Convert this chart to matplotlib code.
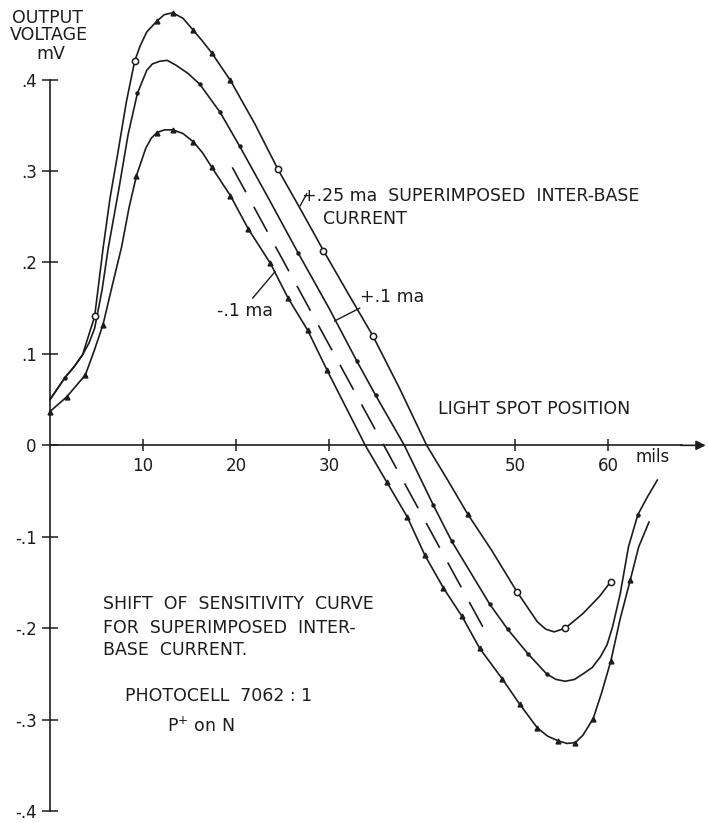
import numpy as np
import matplotlib.pyplot as plt

plt.rcParams['font.family'] = ['DejaVu Sans']

# light spot position (mils) and output voltage (mV)
# +.25 ma superimposed inter-base current
x_p25 = [0, 1.6, 2.6, 3.5, 4.8, 5.7, 6.45, 7.3, 8.2, 9.1, 9.7, 10.4, 11.5,
         12.3, 13.2, 14.3, 15.4, 16.4, 17.4, 19.4, 22.0, 24.5, 27.0, 29.4,
         32.0, 34.7, 37.6, 40.5, 42.7, 44.9, 47.5, 50.2, 51.4, 52.4, 53.3,
         54.2, 55.4, 57.3, 59.1, 60.3]
v_p25 = [0.05, 0.074, 0.086, 0.099, 0.141, 0.215, 0.27, 0.32, 0.375, 0.42,
         0.437, 0.452, 0.464, 0.471, 0.473, 0.467, 0.454, 0.442, 0.429, 0.399,
         0.352, 0.302, 0.257, 0.213, 0.167, 0.12, 0.062, 0.0, -0.037, -0.075,
         -0.115, -0.16, -0.178, -0.193, -0.201, -0.204, -0.2, -0.184, -0.165,
         -0.149]
# open circles on the +.25 curve
xo_p25 = [4.8, 9.1, 24.5, 29.4, 34.7, 50.2, 55.4, 60.3]
vo_p25 = [0.141, 0.42, 0.302, 0.213, 0.12, -0.16, -0.2, -0.149]
# small solid marks on the +.25 curve
xs_p25 = [11.5, 13.2, 15.4, 17.4, 19.4, 44.9]
vs_p25 = [0.464, 0.473, 0.454, 0.429, 0.399, -0.075]

# +.1 ma
x_p10 = [0, 1.6, 2.6, 3.5, 4.2, 4.8, 5.6, 6.25, 7.4, 8.4, 9.4, 10.4, 11.0,
         11.8, 12.6, 13.5, 14.8, 16.1, 18.3, 20.4, 23.5, 26.7, 30.0, 33.0,
         35.0, 38.1, 41.2, 43.2, 47.3, 49.2, 51.4, 53.4, 54.4, 55.4, 56.4,
         57.3, 58.3, 59.2, 59.9, 60.5, 61.3, 62.2, 63.2, 64.2, 65.3]
v_p10 = [0.05, 0.074, 0.086, 0.099, 0.112, 0.128, 0.17, 0.215, 0.28, 0.34,
         0.385, 0.41, 0.417, 0.42, 0.421, 0.416, 0.407, 0.395, 0.364, 0.327,
         0.27, 0.21, 0.15, 0.092, 0.055, 0.0, -0.065, -0.105, -0.174, -0.201,
         -0.228, -0.25, -0.256, -0.258, -0.256, -0.25, -0.243, -0.231, -0.218,
         -0.198, -0.163, -0.111, -0.076, -0.057, -0.038]
xs_p10 = [1.6, 9.4, 16.1, 18.3, 20.4, 26.7, 33.0, 35.0, 41.2, 43.2, 47.3,
          49.2, 51.4, 53.4, 63.2]
vs_p10 = [0.074, 0.385, 0.395, 0.364, 0.327, 0.21, 0.092, 0.055, -0.065,
          -0.105, -0.174, -0.201, -0.228, -0.25, -0.076]

# -.1 ma
x_m10 = [0, 1.8, 3.8, 4.7, 5.7, 6.7, 7.7, 8.5, 9.3, 10.3, 10.9, 11.5, 12.3,
         13.2, 14.3, 15.4, 16.4, 17.4, 19.4, 21.3, 23.7, 25.6, 27.7, 29.8,
         33.9, 36.2, 38.4, 40.3, 42.3, 44.3, 46.2, 48.6, 50.5, 52.4, 53.5,
         54.6, 55.6, 56.5, 57.3, 58.4, 59.3, 60.3, 61.3, 62.4, 63.3, 64.4]
v_m10 = [0.037, 0.053, 0.077, 0.102, 0.132, 0.175, 0.217, 0.26, 0.295, 0.325,
         0.336, 0.342, 0.345, 0.345, 0.341, 0.332, 0.32, 0.304, 0.273, 0.237,
         0.199, 0.161, 0.126, 0.082, 0.0, -0.04, -0.078, -0.12, -0.156,
         -0.187, -0.222, -0.255, -0.283, -0.309, -0.318, -0.323, -0.326,
         -0.325, -0.317, -0.299, -0.271, -0.236, -0.19, -0.147, -0.111, -0.084]
xs_m10 = [0, 1.8, 3.8, 5.7, 9.3, 11.5, 13.2, 15.4, 17.4, 19.4, 21.3, 23.7,
          25.6, 27.7, 29.8, 36.2, 38.4, 40.3, 42.3, 44.3, 46.2, 48.6, 50.5,
          52.4, 54.6, 56.5, 58.4, 60.3, 62.4]
vs_m10 = [0.037, 0.053, 0.077, 0.132, 0.295, 0.342, 0.345, 0.332, 0.304,
          0.273, 0.237, 0.199, 0.161, 0.126, 0.082, -0.04, -0.078, -0.12,
          -0.156, -0.187, -0.222, -0.255, -0.283, -0.309, -0.323, -0.325,
          -0.299, -0.236, -0.147]

# dashed reference line (no bias)
x_dash = [19.6, 47.1]
v_dash = [0.304, -0.209]

x_ticks = [10, 20, 30, 50, 60]
x_labels = ['10', '20', '30', '50', '60']
y_ticks = [0.4, 0.3, 0.2, 0.1, 0, -0.1, -0.2, -0.3, -0.4]
y_labels = ['.4', '.3', '.2', '.1', '0', '-.1', '-.2', '-.3', '-.4']

ink = '#1c1c1c'

fig = plt.figure(figsize=(7.08, 8.23), dpi=100)
ax = fig.add_axes([0, 0, 1, 1])
ax.set_xlim(-5.376, 70.75)
ax.set_ylim(-0.413, 0.487)

for s in ['top', 'right']:
    ax.spines[s].set_visible(False)
ax.spines['left'].set_position(('data', 0))
ax.spines['bottom'].set_position(('data', 0))
ax.spines['left'].set_bounds(-0.4, 0.4)
ax.spines['bottom'].set_bounds(0, 68)
for s in ['left', 'bottom']:
    ax.spines[s].set_color(ink)
    ax.spines[s].set_linewidth(1.2)

ax.set_xticks(x_ticks)
ax.set_xticklabels(x_labels)
ax.set_yticks(y_ticks)
ax.set_yticklabels(y_labels)
ax.tick_params(axis='x', direction='inout', length=9, width=1.1, color=ink,
               labelsize=12, pad=4)
ax.tick_params(axis='y', direction='inout', length=11, width=1.1, color=ink,
               labelsize=12, pad=4)
for lab in ax.get_xticklabels() + ax.get_yticklabels():
    lab.set_color(ink)

# arrow at the end of the position axis
ax.annotate('', xy=(70.8, 0), xytext=(67.5, 0),
            arrowprops=dict(arrowstyle='-|>', color=ink, lw=1.2,
                            mutation_scale=14))

lw = 1.2
ax.plot(x_p25, v_p25, color=ink, lw=lw)
ax.plot(x_p10, v_p10, color=ink, lw=lw)
ax.plot(x_m10, v_m10, color=ink, lw=lw)
ax.plot(x_dash, v_dash, color=ink, lw=lw, dashes=(17, 10))

ax.plot(xo_p25, vo_p25, 'o', ms=4.5, mfc='white', mec=ink, mew=1.1)
ax.plot(xs_p25, vs_p25, '^', ms=3.5, color=ink)
ax.plot(xs_p10, vs_p10, 'o', ms=2.2, color=ink)
ax.plot(xs_m10, vs_m10, '^', ms=3.5, color=ink)

# leader lines from the labels to the curves
ax.plot([26.9, 27.6], [0.262, 0.275], color=ink, lw=1.0)
ax.plot([30.6, 33.3], [0.136, 0.150], color=ink, lw=1.0)
ax.plot([21.8, 24.2], [0.161, 0.19], color=ink, lw=1.0)

fs = 12.5
ax.text(-0.3, 0.467, 'OUTPUT', ha='center', va='center', fontsize=fs, color=ink)
ax.text(-0.1, 0.449, 'VOLTAGE', ha='center', va='center', fontsize=fs, color=ink)
ax.text(0.1, 0.428, 'mV', ha='center', va='center', fontsize=fs, color=ink)

ax.text(41.7, 0.040, 'LIGHT SPOT POSITION', ha='left', va='center',
        fontsize=fs, color=ink)
ax.text(64.8, -0.013, 'mils', ha='center', va='center', fontsize=12, color=ink)

ax.text(27.1, 0.273, '+.25 ma  SUPERIMPOSED  INTER-BASE', ha='left',
        va='center', fontsize=fs, color=ink)
ax.text(29.35, 0.248, 'CURRENT', ha='left', va='center', fontsize=fs, color=ink)
ax.text(33.3, 0.162, '+.1 ma', ha='left', va='center', fontsize=fs, color=ink)
ax.text(18.0, 0.147, '-.1 ma', ha='left', va='center', fontsize=fs, color=ink)

ax.text(5.7, -0.174, 'SHIFT  OF  SENSITIVITY  CURVE', ha='left', va='center',
        fontsize=fs, color=ink)
ax.text(5.7, -0.200, 'FOR  SUPERIMPOSED  INTER-', ha='left', va='center',
        fontsize=fs, color=ink)
ax.text(5.7, -0.224, 'BASE  CURRENT.', ha='left', va='center',
        fontsize=fs, color=ink)
ax.text(8.06, -0.274, 'PHOTOCELL  7062 : 1', ha='left', va='center',
        fontsize=fs, color=ink)
ax.text(12.6, -0.307, r'P$^{+}$ on N', ha='left', va='center',
        fontsize=fs, color=ink)

fig.savefig('out.png', dpi=100, facecolor='white')
